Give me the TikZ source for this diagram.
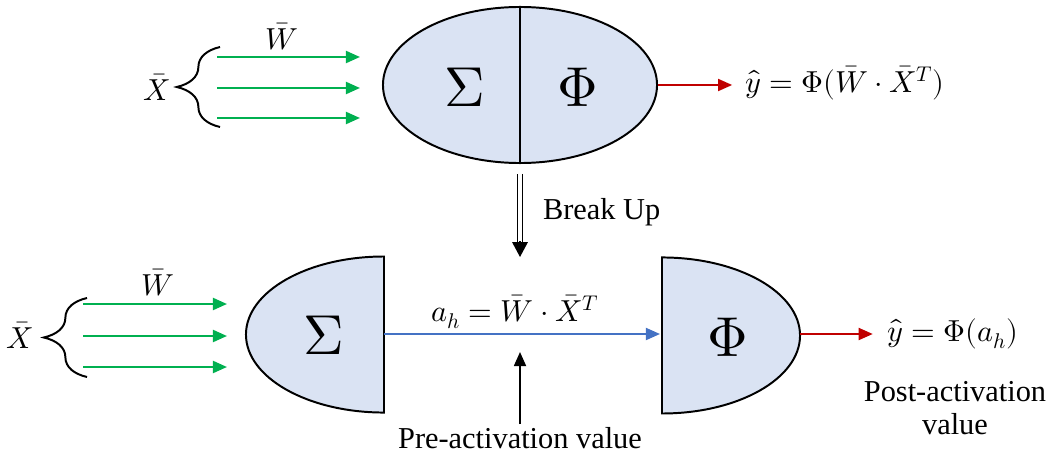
\documentclass[tikz,border=0pt]{standalone}
\usepackage{amsmath}
\usepackage{fontspec}
\usepackage{unicode-math}
\setmainfont{Liberation Serif}
\setmathfont{Latin Modern Math}
\usepackage{xcolor}
\usepackage{tikz}
\usetikzlibrary{shapes.geometric, arrows.meta, decorations.pathreplacing, positioning, calc}

\definecolor{cellfill}{RGB}{218,227,243}
\definecolor{wgreen}{RGB}{0,176,80}
\definecolor{outred}{RGB}{192,0,0}
\definecolor{preblue}{RGB}{68,114,196}

\begin{document}
\begin{tikzpicture}[x=0.025cm, y=0.025cm,
        tip/.style={-{Triangle[length=10pt,width=8.5pt]}},
        wire/.style={tip, line width=1.6pt, wgreen},
        cellline/.style={draw, line width=1.4pt, fill=cellfill},
        big/.style={font=\fontsize{40}{48}\selectfont},
        lbl/.style={font=\fontsize{21.6}{23.4}\selectfont, inner sep=2pt},
        br/.style={decorate, decoration={brace, amplitude=1.08cm}, line width=1.4pt}]

        \useasboundingbox (0,0) rectangle (1051,455);

        % whole neuron
        \node[ellipse, cellline, minimum width=6.85cm, minimum height=3.9cm] (cell) at (520,370) {};
        \draw[line width=1.4pt] (cell.north) -- (cell.south);
        \node[big] (s0) at (465,368) {$\Sigma$};
        \node[big] (p0) at (578,368) {$\Phi$};

        \node[lbl, anchor=west] (y0) at (742,372) {$\hat{y} = \Phi(\bar{W}\cdot\bar{X}^T)$};
        \draw[tip, line width=1.4pt, outred, shorten >=7pt] (cell.east) -- (cell.east -| y0.west);

        \foreach \y [count=\k] in {398,367,337} {
            \coordinate (a\k) at (217,\y);
            \coordinate (b\k) at (360,\y);
            \draw[wire] (a\k) -- (b\k);
        }
        \node[lbl] (w0) at (282,418) {$\bar{W}$};
        \draw[br] (220,328) -- (220,408);
        \node[lbl] (x0) at (157,368) {$\bar{X}$};

        % break up
        \coordinate (split) at (520,198);
        \draw[double, double distance=2.6pt, line width=0.9pt, shorten <=7pt, shorten >=10pt] (cell.south) -- (split);
        \draw[-{Triangle[length=10.5pt,width=11pt]}, line width=0.9pt] (520,214) -- (split);
        \node[lbl, anchor=west] (brk) at (540,243) {Break Up};

        % split neuron
        \draw[cellline] (384,198.5) arc[start angle=90, end angle=270, x radius=3.45cm, y radius=1.95cm] -- cycle;
        \draw[cellline] (662,41.5) arc[start angle=-90, end angle=90, x radius=3.45cm, y radius=1.95cm] -- cycle;
        \node[big] (sum) at (324,120) {$\Sigma$};
        \node[big] (act) at (728,118) {$\Phi$};
        \coordinate (sumR) at (384,121);
        \coordinate (actL) at (660,121);
        \coordinate (actR) at (800,121);

        \foreach \y [count=\k] in {151,119,88} {
            \coordinate (c\k) at (83,\y);
            \coordinate (d\k) at (227,\y);
            \draw[wire] (c\k) -- (d\k);
        }
        \node[lbl] (w1) at (158,172) {$\bar{W}$};
        \draw[br] (87,78) -- (87,157);
        \node[lbl] (x1) at (20,120) {$\bar{X}$};

        \draw[tip, line width=1.4pt, preblue] (sumR) -- (actL);
        \node[lbl] (ah) at (515,143) {$a_h = \bar{W}\cdot\bar{X}^T$};

        \node[lbl] (pre) at (520,17) {Pre-activation value};
        \coordinate (preTip) at (520,103);
        \draw[tip, line width=1.4pt] (pre.north) -- (preTip);

        \node[lbl, anchor=west] (yh) at (884,121) {$\hat{y} = \Phi(a_h)$};
        \draw[tip, line width=1.4pt, outred, shorten >=8pt] (actR) -- (yh.west);
        \node[lbl, align=center] (post) at (955,47) {Post-activation\\value};

    \end{tikzpicture}
\end{document}
